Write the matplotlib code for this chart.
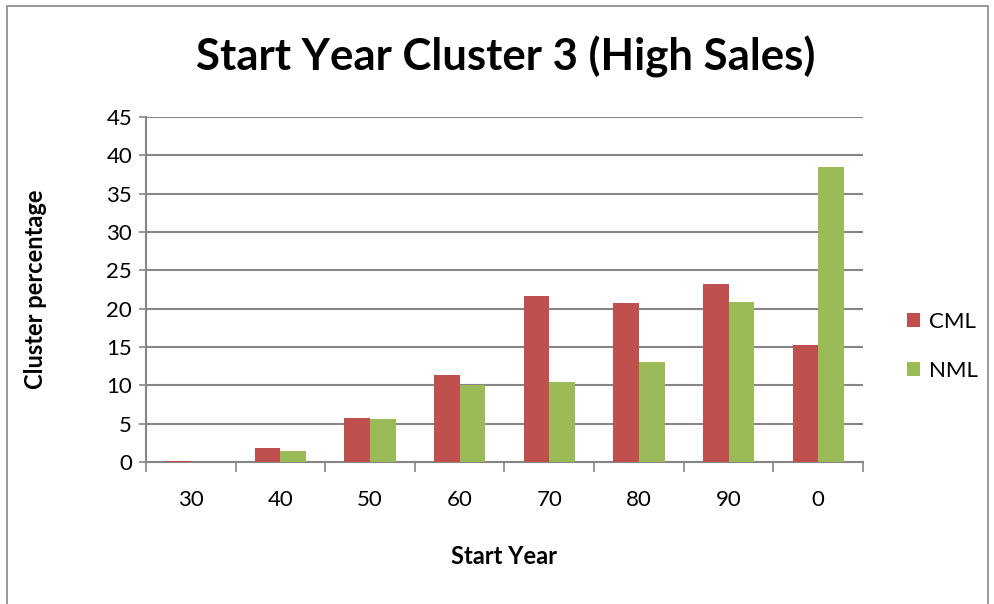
import numpy as np
import matplotlib.pyplot as plt
from matplotlib.patches import Rectangle

# start year decades and cluster percentages
years = ['30', '40', '50', '60', '70', '80', '90', '0']
cml = [0.2, 1.8, 5.7, 11.3, 21.7, 20.8, 23.2, 15.3]
nml = [0.0, 1.5, 5.6, 10.0, 10.5, 13.0, 20.9, 38.5]

plt.rcParams['font.family'] = ['Lato', 'DejaVu Sans']

fig = plt.figure(figsize=(9.95, 6.04), dpi=100)
ax = fig.add_axes([0.1467, 0.235, 0.7206, 0.5713])

# outer chart border
fig.patches.append(Rectangle((0.007, -0.01), 0.986, 1.0, transform=fig.transFigure,
                             fill=False, edgecolor='#868686', linewidth=1.2))

x = np.arange(len(years))
w = 1 / 3.5
ax.bar(x - w / 2, cml, w, color='#C0504D', label='CML', zorder=3)
ax.bar(x + w / 2, nml, w, color='#9BBB59', label='NML', zorder=3)

ax.set_xlim(-0.5, len(years) - 0.5)
ax.set_ylim(0, 45)
ax.set_yticks(range(0, 46, 5))
ax.yaxis.grid(True, color='#868686', linewidth=1.5, zorder=0)
ax.set_xticks(x)
ax.set_xticklabels(years, fontsize=16)
ax.tick_params(axis='x', length=0, pad=20)
ax.set_xticks(np.arange(-0.5, len(years)), minor=True)
ax.tick_params(axis='x', which='minor', length=7, width=1.2, color='#868686')
ax.tick_params(axis='y', labelsize=16, length=5, width=1.2, color='#868686', pad=5)

for side in ['top', 'right']:
    ax.spines[side].set_visible(False)
for side in ['left', 'bottom']:
    ax.spines[side].set_color('#868686')
    ax.spines[side].set_linewidth(1.5)

ax.set_xlabel('Start Year', fontsize=17, fontweight='bold', labelpad=25)
ax.set_ylabel('Cluster percentage', fontsize=17, fontweight='bold', labelpad=43)
fig.suptitle('Start Year Cluster 3 (High Sales)', fontsize=31.5, fontweight='bold',
             x=0.508, y=0.906, va='center')

ax.legend(loc='center left', bbox_to_anchor=(1.033, 0.336), frameon=False, fontsize=16,
          handlelength=0.6, handleheight=0.6, handletextpad=0.4, labelspacing=1.3)

fig.savefig('out.png', dpi=100)
